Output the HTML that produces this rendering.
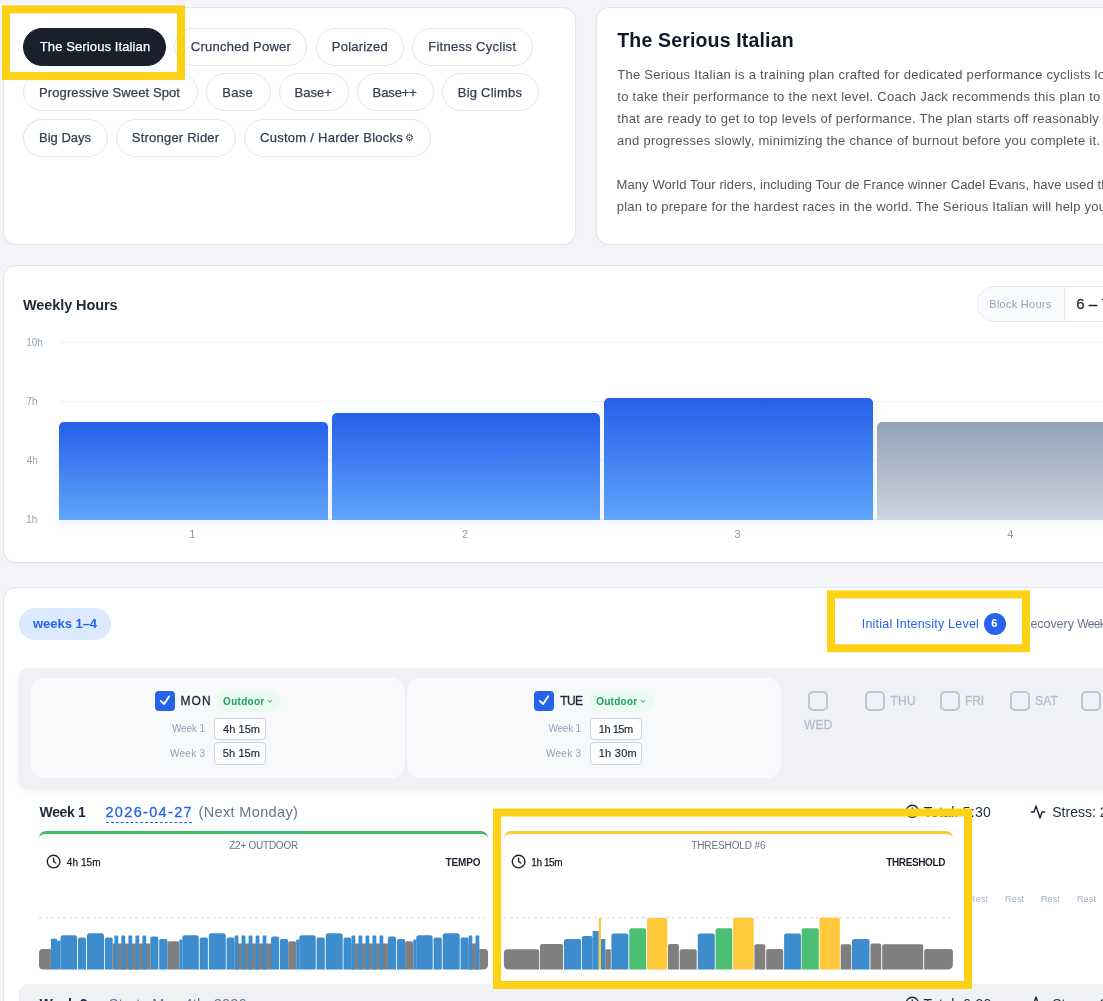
<!DOCTYPE html><html lang='en'><head><meta charset='utf-8'><title>Training Plan</title><style>
*{box-sizing:border-box}
html,body{margin:0;padding:0}
body{width:1103px;height:1001px;overflow:hidden;position:relative;background:#f4f4f9;font-family:'Liberation Sans',sans-serif;}
.t{position:absolute;white-space:pre;display:block}
.abs{position:absolute}
.card{position:absolute;background:#fff;border:1px solid #dfe6ef;border-radius:13px;box-shadow:0 1px 2px rgba(15,23,42,.03)}
  .pill{position:absolute;height:37.4px;border:1px solid #e2e8f0;border-radius:19px;background:#fff}
.pill.on{background:#1a1f2e;border-color:#1a1f2e}
.hl{position:absolute;border:8px solid #fcd116;z-index:50}
.cb{position:absolute;width:20px;height:20px;border-radius:4px}
.cb.on{background:#2563eb}
.cb.off{border:2px solid #bcc7d6;background:transparent;border-radius:5px}
.inp{position:absolute;background:#fff;border:1px solid #cbd5e1;border-radius:4px}
</style></head><body>
<div class='card' style='left:3px;top:7px;width:573px;height:238px'></div>
<div class='pill on' style='left:23px;top:28.3px;width:143.0px'></div>
<span class="t" style="left:39.75px;top:40px;font-size:13px;line-height:13px;font-weight:400;color:#ffffff;letter-spacing:0.114px;-webkit-text-stroke:0.25px currentColor;">The Serious Italian</span>
<div class='pill' style='left:174px;top:28.3px;width:133.4px'></div>
<span class="t" style="left:190.75px;top:40px;font-size:13px;line-height:13px;font-weight:400;color:#334155;letter-spacing:0.250px;-webkit-text-stroke:0.25px currentColor;">Crunched Power</span>
<div class='pill' style='left:316px;top:28.3px;width:87.8px'></div>
<span class="t" style="left:331.80px;top:40px;font-size:13px;line-height:13px;font-weight:400;color:#334155;letter-spacing:0.219px;-webkit-text-stroke:0.25px currentColor;">Polarized</span>
<div class='pill' style='left:412.2px;top:28.3px;width:120.8px'></div>
<span class="t" style="left:428.20px;top:40px;font-size:13px;line-height:13px;font-weight:400;color:#334155;letter-spacing:0.289px;-webkit-text-stroke:0.25px currentColor;">Fitness Cyclist</span>
<div class='pill' style='left:23px;top:73.4px;width:174.5px'></div>
<span class="t" style="left:39.00px;top:86px;font-size:13px;line-height:13px;font-weight:400;color:#334155;letter-spacing:0.107px;-webkit-text-stroke:0.25px currentColor;">Progressive Sweet Spot</span>
<div class='pill' style='left:206px;top:73.4px;width:64.5px'></div>
<span class="t" style="left:222.30px;top:86px;font-size:13px;line-height:13px;font-weight:400;color:#334155;letter-spacing:0.233px;-webkit-text-stroke:0.25px currentColor;">Base</span>
<div class='pill' style='left:279px;top:73.4px;width:69.6px'></div>
<span class="t" style="left:294.60px;top:86px;font-size:13px;line-height:13px;font-weight:400;color:#334155;letter-spacing:0.025px;-webkit-text-stroke:0.25px currentColor;">Base+</span>
<div class='pill' style='left:357px;top:73.4px;width:76.8px'></div>
<span class="t" style="left:372.60px;top:86px;font-size:13px;line-height:13px;font-weight:400;color:#334155;letter-spacing:-0.090px;-webkit-text-stroke:0.25px currentColor;">Base++</span>
<div class='pill' style='left:442px;top:73.4px;width:97.0px'></div>
<span class="t" style="left:457.80px;top:86px;font-size:13px;line-height:13px;font-weight:400;color:#334155;letter-spacing:0.228px;-webkit-text-stroke:0.25px currentColor;">Big Climbs</span>
<div class='pill' style='left:23px;top:119.3px;width:84.5px'></div>
<span class="t" style="left:39.00px;top:131px;font-size:13px;line-height:13px;font-weight:400;color:#334155;letter-spacing:0.000px;-webkit-text-stroke:0.25px currentColor;">Big Days</span>
<div class='pill' style='left:116px;top:119.3px;width:119.5px'></div>
<span class="t" style="left:131.85px;top:131px;font-size:13px;line-height:13px;font-weight:400;color:#334155;letter-spacing:0.208px;-webkit-text-stroke:0.25px currentColor;">Stronger Rider</span>
<div class='pill' style='left:244px;top:119.3px;width:186.8px'></div>
<span class="t" style="left:260.05px;top:131px;font-size:13px;line-height:13px;font-weight:400;color:#334155;letter-spacing:0.262px;-webkit-text-stroke:0.25px currentColor;">Custom / Harder Blocks</span>
<span class="t" style="left:404.60px;top:133px;font-size:10px;line-height:10px;font-weight:400;color:#334155;letter-spacing:0.000px;">⚙</span>
<svg class='abs' style='left:0;top:0;z-index:50' width='1103' height='1001' viewBox='0 0 1103 1001'><rect x='6.0' y='9.4' width='175' height='66.69999999999999' fill='none' stroke='#fcd116' stroke-width='8'/></svg>
<div class='card' style='left:596px;top:7px;width:560px;height:238px'></div>
<span class="t" style="left:617.25px;top:31px;font-size:19.5px;line-height:19.5px;font-weight:700;color:#111827;letter-spacing:0.167px;">The Serious Italian</span>
<span class="t" style="left:617.25px;top:68px;font-size:13px;line-height:13px;font-weight:400;color:#555555;letter-spacing:0.278px;">The Serious Italian is a training plan crafted for dedicated performance cyclists looking</span>
<span class="t" style="left:617.25px;top:90px;font-size:13px;line-height:13px;font-weight:400;color:#555555;letter-spacing:0.301px;">to take their performance to the next level. Coach Jack recommends this plan to riders</span>
<span class="t" style="left:617.25px;top:112px;font-size:13px;line-height:13px;font-weight:400;color:#555555;letter-spacing:0.286px;">that are ready to get to top levels of performance. The plan starts off reasonably</span>
<span class="t" style="left:617.00px;top:134px;font-size:13px;line-height:13px;font-weight:400;color:#555555;letter-spacing:0.285px;">and progresses slowly, minimizing the chance of burnout before you complete it.</span>
<span class="t" style="left:616.50px;top:178px;font-size:13px;line-height:13px;font-weight:400;color:#555555;letter-spacing:0.097px;">Many World Tour riders, including Tour de France winner Cadel Evans, have used this</span>
<span class="t" style="left:616.75px;top:200px;font-size:13px;line-height:13px;font-weight:400;color:#555555;letter-spacing:0.226px;">plan to prepare for the hardest races in the world. The Serious Italian will help you reach</span>
<div class='card' style='left:3px;top:265px;width:1160px;height:298px'></div>
<span class="t" style="left:23.00px;top:298px;font-size:14.5px;line-height:14.5px;font-weight:700;color:#1e293b;letter-spacing:-0.091px;">Weekly Hours</span>
<div class='abs' style='left:977px;top:286px;width:200px;height:36px;border:1px solid #e2e8f0;border-radius:18px;background:#fff;overflow:hidden'><div style='position:absolute;left:0;top:0;width:87px;height:34px;background:#f8fafc;border-right:1px solid #e2e8f0'></div></div>
<span class="t" style="left:989.30px;top:299px;font-size:11px;line-height:11px;font-weight:400;color:#94a3b8;letter-spacing:0.270px;">Block Hours</span>
<span class="t" style="left:1076.25px;top:296px;font-size:15px;line-height:15px;font-weight:400;color:#1e293b;letter-spacing:0.000px;-webkit-text-stroke:0.3px currentColor;">6 – 7</span>
<div class='abs' style='left:59px;top:342px;width:1100px;height:1px;background:#eef1f5'></div>
<div class='abs' style='left:59px;top:401px;width:1100px;height:1px;background:#eef1f5'></div>
<div class='abs' style='left:59px;top:460px;width:1100px;height:1px;background:#eef1f5'></div>
<div class='abs' style='left:59px;top:519px;width:1100px;height:1px;background:#eef1f5'></div>
<span class="t" style="left:26.25px;top:338px;font-size:10px;line-height:10px;font-weight:400;color:#94a3b8;letter-spacing:0.000px;">10h</span>
<span class="t" style="left:26.50px;top:397px;font-size:10px;line-height:10px;font-weight:400;color:#94a3b8;letter-spacing:0.000px;">7h</span>
<span class="t" style="left:26.75px;top:456px;font-size:10px;line-height:10px;font-weight:400;color:#94a3b8;letter-spacing:0.000px;">4h</span>
<span class="t" style="left:26.25px;top:515px;font-size:10px;line-height:10px;font-weight:400;color:#94a3b8;letter-spacing:0.000px;">1h</span>
<div class='abs' style='left:59px;top:421.7px;width:269px;height:98.0px;background:linear-gradient(#2560ea,#5fa5fa);border-radius:5px 5px 0 0;box-shadow:0 4px 10px rgba(37,99,235,.09)'></div>
<div class='abs' style='left:332px;top:413px;width:268px;height:106.7px;background:linear-gradient(#2560ea,#5fa5fa);border-radius:5px 5px 0 0;box-shadow:0 4px 10px rgba(37,99,235,.09)'></div>
<div class='abs' style='left:604px;top:398px;width:269px;height:121.7px;background:linear-gradient(#2560ea,#5fa5fa);border-radius:5px 5px 0 0;box-shadow:0 4px 10px rgba(37,99,235,.09)'></div>
<div class='abs' style='left:877px;top:421.7px;width:269px;height:98.0px;background:linear-gradient(#94a3b8,#cbd5e1);border-radius:5px 5px 0 0;box-shadow:0 4px 10px rgba(100,116,139,.07)'></div>
<span class="t" style="left:189.25px;top:529px;font-size:11px;line-height:11px;font-weight:400;color:#8a99ad;letter-spacing:0.000px;">1</span>
<span class="t" style="left:462.00px;top:529px;font-size:11px;line-height:11px;font-weight:400;color:#8a99ad;letter-spacing:0.000px;">2</span>
<span class="t" style="left:734.50px;top:529px;font-size:11px;line-height:11px;font-weight:400;color:#8a99ad;letter-spacing:0.000px;">3</span>
<span class="t" style="left:1007.25px;top:529px;font-size:11px;line-height:11px;font-weight:400;color:#8a99ad;letter-spacing:0.000px;">4</span>
<div class='card' style='left:3px;top:587px;width:1160px;height:500px'></div>
<div class='abs' style='left:19px;top:608px;width:92px;height:31.5px;border-radius:16px;background:#dbeafe'></div>
<span class="t" style="left:33.00px;top:617px;font-size:13px;line-height:13px;font-weight:700;color:#2563eb;letter-spacing:-0.031px;">weeks 1–4</span>
<span class="t" style="left:861.75px;top:618px;font-size:12.5px;line-height:12.5px;font-weight:400;color:#2563eb;letter-spacing:0.205px;">Initial Intensity Level</span>
<div class='abs' style='left:984px;top:612.5px;width:22px;height:22px;border-radius:11px;background:#2563eb'></div>
<span class="t" style="left:991.30px;top:618px;font-size:11px;line-height:11px;font-weight:700;color:#ffffff;letter-spacing:0.000px;">6</span>
<span class="t" style="left:1021.40px;top:618px;font-size:12.5px;line-height:12.5px;font-weight:400;color:#64748b;letter-spacing:-0.042px;">Recovery </span>
<span class="t" style="left:1077.30px;top:618px;font-size:12px;line-height:12px;font-weight:400;color:#64748b;letter-spacing:-0.650px;">Week</span>
<svg class='abs' style='left:0;top:0;z-index:50' width='1103' height='1001' viewBox='0 0 1103 1001'><rect x='831.0' y='594.4' width='195' height='53.80000000000007' fill='none' stroke='#fcd116' stroke-width='8'/></svg>
<div class='abs' style='left:19px;top:667.5px;width:1140px;height:121px;background:#eff1f5;border-radius:9px;box-shadow:0 3px 6px rgba(15,23,42,.06)'></div>
<div class='abs' style='left:30.5px;top:677.5px;width:374.5px;height:100.5px;background:#f8f9fb;border-radius:14px'></div>
<div class='abs' style='left:406.5px;top:677.5px;width:374.5px;height:100.5px;background:#f8f9fb;border-radius:14px'></div>
<div class='cb on' style='left:155px;top:691px'><svg width='20' height='20' viewBox='0 0 20 20' style='position:absolute;left:0;top:0'><path d='M5.8 9.9 L9.1 13.1 L14.1 5.4' fill='none' stroke='#fff' stroke-width='1.9' stroke-linecap='round' stroke-linejoin='round'/></svg></div>
<span class="t" style="left:180.50px;top:695px;font-size:12px;line-height:12px;font-weight:400;color:#1e293b;letter-spacing:1.100px;-webkit-text-stroke:0.3px currentColor;">MON</span>
<div class='abs' style='left:215.7px;top:691px;width:65.30000000000001px;height:21px;border-radius:10.5px;background:#ebfbf2'></div>
<span class="t" style="left:223.10px;top:697px;font-size:10px;line-height:10px;font-weight:700;color:#21a05e;letter-spacing:0.275px;">Outdoor</span>
<svg class='abs' style='left:267.2px;top:699px' width='6' height='5' viewBox='0 0 6 5'><path d='M1 1.2 L3 3.2 L5 1.2' fill='none' stroke='#21a05e' stroke-width='1'/></svg>
<span class="t" style="left:172.00px;top:724px;font-size:10px;line-height:10px;font-weight:400;color:#94a3b8;letter-spacing:-0.150px;">Week 1</span>
<span class="t" style="left:170.00px;top:749px;font-size:10px;line-height:10px;font-weight:400;color:#94a3b8;letter-spacing:0.250px;">Week 3</span>
<div class='inp' style='left:214px;top:718px;width:51.5px;height:21.5px'></div>
<div class='inp' style='left:214px;top:742px;width:51.5px;height:22.5px'></div>
<span class="t" style="left:223.05px;top:724px;font-size:11px;line-height:11px;font-weight:400;color:#1e293b;letter-spacing:0.050px;-webkit-text-stroke:0.2px currentColor;">4h 15m</span>
<span class="t" style="left:222.80px;top:748px;font-size:11px;line-height:11px;font-weight:400;color:#1e293b;letter-spacing:0.100px;-webkit-text-stroke:0.2px currentColor;">5h 15m</span>
<div class='cb on' style='left:534px;top:691px'><svg width='20' height='20' viewBox='0 0 20 20' style='position:absolute;left:0;top:0'><path d='M5.8 9.9 L9.1 13.1 L14.1 5.4' fill='none' stroke='#fff' stroke-width='1.9' stroke-linecap='round' stroke-linejoin='round'/></svg></div>
<span class="t" style="left:560.25px;top:695px;font-size:12px;line-height:12px;font-weight:400;color:#1e293b;letter-spacing:-0.625px;-webkit-text-stroke:0.3px currentColor;">TUE</span>
<div class='abs' style='left:589px;top:691px;width:65px;height:21px;border-radius:10.5px;background:#ebfbf2'></div>
<span class="t" style="left:596.20px;top:697px;font-size:10px;line-height:10px;font-weight:700;color:#21a05e;letter-spacing:0.258px;">Outdoor</span>
<svg class='abs' style='left:640.4px;top:699px' width='6' height='5' viewBox='0 0 6 5'><path d='M1 1.2 L3 3.2 L5 1.2' fill='none' stroke='#21a05e' stroke-width='1'/></svg>
<span class="t" style="left:548.50px;top:724px;font-size:10px;line-height:10px;font-weight:400;color:#94a3b8;letter-spacing:-0.250px;">Week 1</span>
<span class="t" style="left:546.00px;top:749px;font-size:10px;line-height:10px;font-weight:400;color:#94a3b8;letter-spacing:0.250px;">Week 3</span>
<div class='inp' style='left:590px;top:718px;width:52px;height:21.5px'></div>
<div class='inp' style='left:590px;top:742px;width:52px;height:22.5px'></div>
<span class="t" style="left:598.75px;top:724px;font-size:11px;line-height:11px;font-weight:400;color:#1e293b;letter-spacing:-0.450px;-webkit-text-stroke:0.2px currentColor;">1h 15m</span>
<span class="t" style="left:598.75px;top:748px;font-size:11px;line-height:11px;font-weight:400;color:#1e293b;letter-spacing:0.250px;-webkit-text-stroke:0.2px currentColor;">1h 30m</span>
<div class='cb off' style='left:808px;top:691px'></div>
<span class="t" style="left:804.00px;top:719px;font-size:12px;line-height:12px;font-weight:400;color:#b3bece;letter-spacing:0.250px;-webkit-text-stroke:0.3px currentColor;">WED</span>
<div class='cb off' style='left:865px;top:691px'></div>
<span class="t" style="left:890.45px;top:695px;font-size:12px;line-height:12px;font-weight:400;color:#b3bece;letter-spacing:0.250px;-webkit-text-stroke:0.3px currentColor;">THU</span>
<div class='cb off' style='left:940px;top:691px'></div>
<span class="t" style="left:965.00px;top:695px;font-size:12px;line-height:12px;font-weight:400;color:#b3bece;letter-spacing:-0.125px;-webkit-text-stroke:0.3px currentColor;">FRI</span>
<div class='cb off' style='left:1010px;top:691px'></div>
<span class="t" style="left:1035.10px;top:695px;font-size:12px;line-height:12px;font-weight:400;color:#b3bece;letter-spacing:0.125px;-webkit-text-stroke:0.3px currentColor;">SAT</span>
<div class='cb off' style='left:1081px;top:691px'></div>
<span class="t" style="left:1106.50px;top:695px;font-size:12px;line-height:12px;font-weight:400;color:#b3bece;letter-spacing:0.000px;-webkit-text-stroke:0.3px currentColor;">SUN</span>
<span class="t" style="left:39.60px;top:805px;font-size:14px;line-height:14px;font-weight:700;color:#1e293b;letter-spacing:-0.360px;">Week 1</span>
<span class="t" style="left:105.45px;top:805px;font-size:14.5px;line-height:14.5px;font-weight:400;color:#2563eb;letter-spacing:1.339px;-webkit-text-stroke:0.3px currentColor;">2026-04-27</span>
<div class='abs' style='left:106px;top:821.5px;width:85.5px;height:0;border-top:1px dashed #2563eb'></div>
<span class="t" style="left:198.60px;top:805px;font-size:14.5px;line-height:14.5px;font-weight:400;color:#64748b;letter-spacing:0.346px;">(Next Monday)</span>
<svg class='abs' style='left:904.5px;top:804.4px' width='14.6' height='14.6' viewBox='0 0 24 24'><circle cx='12' cy='12' r='10' fill='none' stroke='#1e293b' stroke-width='2.2'/><path d='M12 6.5V12l3.6 2.2' fill='none' stroke='#1e293b' stroke-width='2.2' stroke-linecap='round' stroke-linejoin='round'/></svg>
<span class="t" style="left:923.75px;top:805px;font-size:14px;line-height:14px;font-weight:400;color:#1e293b;letter-spacing:0.245px;">Total: 5:30</span>
<svg class='abs' style='left:1030px;top:803.5px' width='16' height='16' viewBox='0 0 24 24'><path d='M22 12h-4l-3 9L9 3l-3 9H2' fill='none' stroke='#1e293b' stroke-width='2.1' stroke-linecap='round' stroke-linejoin='round'/></svg>
<span class="t" style="left:1052.25px;top:805px;font-size:14px;line-height:14px;font-weight:400;color:#1e293b;letter-spacing:0.000px;">Stress: 220</span>
<div class='abs' style='left:39px;top:831px;width:449px;height:141px;border-top:3.5px solid #42ba6a;border-radius:7px 7px 0 0;background:#fff'></div>
<span class="t" style="left:229.25px;top:841px;font-size:10px;line-height:10px;font-weight:400;color:#64748b;letter-spacing:-0.250px;">Z2+ OUTDOOR</span>
<svg class='abs' style='left:46.4px;top:854.2px' width='15.2' height='15.2' viewBox='0 0 24 24'><circle cx='12' cy='12' r='10' fill='none' stroke='#222' stroke-width='2.2'/><path d='M12 6.5V12l3.6 2.2' fill='none' stroke='#222' stroke-width='2.2' stroke-linecap='round' stroke-linejoin='round'/></svg>
<span class="t" style="left:66.75px;top:858px;font-size:10px;line-height:10px;font-weight:400;color:#222;letter-spacing:0.100px;-webkit-text-stroke:0.25px currentColor;">4h 15m</span>
<span class="t" style="left:445.50px;top:858px;font-size:10px;line-height:10px;font-weight:700;color:#1f2430;letter-spacing:-0.125px;">TEMPO</span>
<svg class='abs' style='left:39px;top:916px' width='449' height='4' viewBox='0 0 449 4'><line x1='0' y1='1.7' x2='449' y2='1.7' stroke='#e6e6e6' stroke-width='1.6' stroke-dasharray='3 3'/></svg>
<div class='abs' style='left:504px;top:831px;width:449px;height:141px;border-top:3.5px solid #fec835;border-radius:7px 7px 0 0;background:#fff'></div>
<span class="t" style="left:691.25px;top:841px;font-size:10px;line-height:10px;font-weight:400;color:#64748b;letter-spacing:-0.114px;">THRESHOLD #6</span>
<svg class='abs' style='left:511.4px;top:854.2px' width='15.2' height='15.2' viewBox='0 0 24 24'><circle cx='12' cy='12' r='10' fill='none' stroke='#222' stroke-width='2.2'/><path d='M12 6.5V12l3.6 2.2' fill='none' stroke='#222' stroke-width='2.2' stroke-linecap='round' stroke-linejoin='round'/></svg>
<span class="t" style="left:531.25px;top:858px;font-size:10px;line-height:10px;font-weight:400;color:#222;letter-spacing:-0.400px;-webkit-text-stroke:0.25px currentColor;">1h 15m</span>
<span class="t" style="left:886.30px;top:858px;font-size:10px;line-height:10px;font-weight:700;color:#1f2430;letter-spacing:-0.381px;">THRESHOLD</span>
<svg class='abs' style='left:504px;top:916px' width='449' height='4' viewBox='0 0 449 4'><line x1='0' y1='1.7' x2='449' y2='1.7' stroke='#e6e6e6' stroke-width='1.6' stroke-dasharray='3 3'/></svg>
<svg class='abs' style='left:0;top:0' width='1103' height='1001' viewBox='0 0 1103 1001'>
<path d='M39.00 965.10V953.00Q39.00 949.00 43.00 949.00H50.90Q50.90 949.00 50.90 949.00V969.60L50.90 969.60H43.50Q39.00 969.60 39.00 965.10Z' fill='#7f7f7f'/>
<path d='M50.90 969.60V939.50Q50.90 938.70 51.70 938.70H56.20Q57.00 938.70 57.00 939.50V969.60L57.00 969.60H50.90Z' fill='#3d8dce'/>
<path d='M57.00 969.60V941.00Q57.00 940.50 57.50 940.50H60.00Q60.50 940.50 60.50 941.00V969.60L60.50 969.60H57.00Z' fill='#3d8dce'/>
<path d='M60.50 969.60V937.70Q60.50 935.20 63.00 935.20H74.50Q77.00 935.20 77.00 937.70V969.60L77.00 969.60H60.50Z' fill='#3d8dce'/>
<path d='M77.90 969.60V939.40Q77.90 937.40 79.90 937.40H84.10Q86.10 937.40 86.10 939.40V969.60L86.10 969.60H77.90Z' fill='#3d8dce'/>
<path d='M87.00 969.60V935.80Q87.00 933.30 89.50 933.30H101.50Q104.00 933.30 104.00 935.80V969.60L104.00 969.60H87.00Z' fill='#3d8dce'/>
<path d='M104.80 969.60V939.40Q104.80 937.40 106.80 937.40H110.70Q112.70 937.40 112.70 939.40V969.60L112.70 969.60H104.80Z' fill='#3d8dce'/>
<path d='M112.70 969.60V943.50Q112.70 943.50 112.70 943.50H150.30Q150.30 943.50 150.30 943.50V969.60L150.30 969.60H112.70Z' fill='#7f7f7f'/>
<path d='M114.40 969.60V935.90Q114.40 935.50 114.80 935.50H117.80Q118.20 935.50 118.20 935.90V969.60L118.20 969.60H114.40Z' fill='#3d8dce'/>
<path d='M121.40 969.60V935.90Q121.40 935.50 121.80 935.50H124.80Q125.20 935.50 125.20 935.90V969.60L125.20 969.60H121.40Z' fill='#3d8dce'/>
<path d='M128.40 969.60V935.90Q128.40 935.50 128.80 935.50H131.80Q132.20 935.50 132.20 935.90V969.60L132.20 969.60H128.40Z' fill='#3d8dce'/>
<path d='M135.40 969.60V935.90Q135.40 935.50 135.80 935.50H138.80Q139.20 935.50 139.20 935.90V969.60L139.20 969.60H135.40Z' fill='#3d8dce'/>
<path d='M142.40 969.60V935.90Q142.40 935.50 142.80 935.50H145.80Q146.20 935.50 146.20 935.90V969.60L146.20 969.60H142.40Z' fill='#3d8dce'/>
<path d='M150.30 969.60V938.50Q150.30 936.50 152.30 936.50H156.40Q158.40 936.50 158.40 938.50V969.60L158.40 969.60H150.30Z' fill='#3d8dce'/>
<path d='M159.20 969.60V941.00Q159.20 939.00 161.20 939.00H165.50Q167.50 939.00 167.50 941.00V969.60L167.50 969.60H159.20Z' fill='#3d8dce'/>
<path d='M167.50 969.60V943.30Q167.50 941.30 169.50 941.30H177.30Q179.30 941.30 179.30 943.30V969.60L179.30 969.60H167.50Z' fill='#7f7f7f'/>
<path d='M179.30 969.60V940.00Q179.30 939.50 179.80 939.50H181.80Q182.30 939.50 182.30 940.00V969.60L182.30 969.60H179.30Z' fill='#3d8dce'/>
<path d='M182.30 969.60V937.70Q182.30 935.20 184.80 935.20H196.30Q198.80 935.20 198.80 937.70V969.60L198.80 969.60H182.30Z' fill='#3d8dce'/>
<path d='M199.70 969.60V939.40Q199.70 937.40 201.70 937.40H205.90Q207.90 937.40 207.90 939.40V969.60L207.90 969.60H199.70Z' fill='#3d8dce'/>
<path d='M208.80 969.60V935.80Q208.80 933.30 211.30 933.30H223.30Q225.80 933.30 225.80 935.80V969.60L225.80 969.60H208.80Z' fill='#3d8dce'/>
<path d='M226.60 969.60V939.40Q226.60 937.40 228.60 937.40H232.50Q234.50 937.40 234.50 939.40V969.60L234.50 969.60H226.60Z' fill='#3d8dce'/>
<path d='M234.50 969.60V943.50Q234.50 943.50 234.50 943.50H271.00Q271.00 943.50 271.00 943.50V969.60L271.00 969.60H234.50Z' fill='#7f7f7f'/>
<path d='M234.60 969.60V935.90Q234.60 935.50 235.00 935.50H238.00Q238.40 935.50 238.40 935.90V969.60L238.40 969.60H234.60Z' fill='#3d8dce'/>
<path d='M241.60 969.60V935.90Q241.60 935.50 242.00 935.50H245.00Q245.40 935.50 245.40 935.90V969.60L245.40 969.60H241.60Z' fill='#3d8dce'/>
<path d='M248.60 969.60V935.90Q248.60 935.50 249.00 935.50H252.00Q252.40 935.50 252.40 935.90V969.60L252.40 969.60H248.60Z' fill='#3d8dce'/>
<path d='M255.60 969.60V935.90Q255.60 935.50 256.00 935.50H259.00Q259.40 935.50 259.40 935.90V969.60L259.40 969.60H255.60Z' fill='#3d8dce'/>
<path d='M262.60 969.60V935.90Q262.60 935.50 263.00 935.50H266.00Q266.40 935.50 266.40 935.90V969.60L266.40 969.60H262.60Z' fill='#3d8dce'/>
<path d='M271.00 969.60V938.50Q271.00 936.50 273.00 936.50H277.10Q279.10 936.50 279.10 938.50V969.60L279.10 969.60H271.00Z' fill='#3d8dce'/>
<path d='M279.90 969.60V941.00Q279.90 939.00 281.90 939.00H286.20Q288.20 939.00 288.20 941.00V969.60L288.20 969.60H279.90Z' fill='#3d8dce'/>
<path d='M288.20 969.60V943.30Q288.20 941.30 290.20 941.30H294.20Q296.20 941.30 296.20 943.30V969.60L296.20 969.60H288.20Z' fill='#7f7f7f'/>
<path d='M296.20 969.60V940.00Q296.20 939.50 296.70 939.50H298.70Q299.20 939.50 299.20 940.00V969.60L299.20 969.60H296.20Z' fill='#3d8dce'/>
<path d='M299.20 969.60V937.70Q299.20 935.20 301.70 935.20H313.20Q315.70 935.20 315.70 937.70V969.60L315.70 969.60H299.20Z' fill='#3d8dce'/>
<path d='M316.60 969.60V939.40Q316.60 937.40 318.60 937.40H322.80Q324.80 937.40 324.80 939.40V969.60L324.80 969.60H316.60Z' fill='#3d8dce'/>
<path d='M325.70 969.60V935.80Q325.70 933.30 328.20 933.30H340.20Q342.70 933.30 342.70 935.80V969.60L342.70 969.60H325.70Z' fill='#3d8dce'/>
<path d='M343.50 969.60V939.40Q343.50 937.40 345.50 937.40H349.40Q351.40 937.40 351.40 939.40V969.60L351.40 969.60H343.50Z' fill='#3d8dce'/>
<path d='M351.40 969.60V943.50Q351.40 943.50 351.40 943.50H387.90Q387.90 943.50 387.90 943.50V969.60L387.90 969.60H351.40Z' fill='#7f7f7f'/>
<path d='M351.50 969.60V935.90Q351.50 935.50 351.90 935.50H354.90Q355.30 935.50 355.30 935.90V969.60L355.30 969.60H351.50Z' fill='#3d8dce'/>
<path d='M358.50 969.60V935.90Q358.50 935.50 358.90 935.50H361.90Q362.30 935.50 362.30 935.90V969.60L362.30 969.60H358.50Z' fill='#3d8dce'/>
<path d='M365.50 969.60V935.90Q365.50 935.50 365.90 935.50H368.90Q369.30 935.50 369.30 935.90V969.60L369.30 969.60H365.50Z' fill='#3d8dce'/>
<path d='M372.50 969.60V935.90Q372.50 935.50 372.90 935.50H375.90Q376.30 935.50 376.30 935.90V969.60L376.30 969.60H372.50Z' fill='#3d8dce'/>
<path d='M379.50 969.60V935.90Q379.50 935.50 379.90 935.50H382.90Q383.30 935.50 383.30 935.90V969.60L383.30 969.60H379.50Z' fill='#3d8dce'/>
<path d='M387.90 969.60V938.50Q387.90 936.50 389.90 936.50H394.00Q396.00 936.50 396.00 938.50V969.60L396.00 969.60H387.90Z' fill='#3d8dce'/>
<path d='M396.80 969.60V941.00Q396.80 939.00 398.80 939.00H403.10Q405.10 939.00 405.10 941.00V969.60L405.10 969.60H396.80Z' fill='#3d8dce'/>
<path d='M405.10 969.60V943.30Q405.10 941.30 407.10 941.30H411.20Q413.20 941.30 413.20 943.30V969.60L413.20 969.60H405.10Z' fill='#7f7f7f'/>
<path d='M413.20 969.60V940.00Q413.20 939.50 413.70 939.50H415.70Q416.20 939.50 416.20 940.00V969.60L416.20 969.60H413.20Z' fill='#3d8dce'/>
<path d='M416.20 969.60V937.70Q416.20 935.20 418.70 935.20H430.20Q432.70 935.20 432.70 937.70V969.60L432.70 969.60H416.20Z' fill='#3d8dce'/>
<path d='M433.60 969.60V939.40Q433.60 937.40 435.60 937.40H439.80Q441.80 937.40 441.80 939.40V969.60L441.80 969.60H433.60Z' fill='#3d8dce'/>
<path d='M442.70 969.60V935.80Q442.70 933.30 445.20 933.30H457.20Q459.70 933.30 459.70 935.80V969.60L459.70 969.60H442.70Z' fill='#3d8dce'/>
<path d='M460.50 969.60V939.40Q460.50 937.40 462.50 937.40H466.40Q468.40 937.40 468.40 939.40V969.60L468.40 969.60H460.50Z' fill='#3d8dce'/>
<path d='M468.40 969.60V943.50Q468.40 943.50 468.40 943.50H479.30Q479.30 943.50 479.30 943.50V969.60L479.30 969.60H468.40Z' fill='#7f7f7f'/>
<path d='M468.50 969.60V935.90Q468.50 935.50 468.90 935.50H471.90Q472.30 935.50 472.30 935.90V969.60L472.30 969.60H468.50Z' fill='#3d8dce'/>
<path d='M475.50 969.60V935.90Q475.50 935.50 475.90 935.50H478.90Q479.30 935.50 479.30 935.90V969.60L479.30 969.60H475.50Z' fill='#3d8dce'/>
<path d='M479.30 969.60V949.00Q479.30 949.00 479.30 949.00H484.50Q488.00 949.00 488.00 952.50V964.60Q488.00 969.60 483.00 969.60H479.30Z' fill='#7f7f7f'/>
<path d='M503.90 964.60V953.20Q503.90 949.20 507.90 949.20H537.20Q539.20 949.20 539.20 951.20V969.60L539.20 969.60H508.90Q503.90 969.60 503.90 964.60Z' fill='#7f7f7f'/>
<path d='M540.00 969.60V946.00Q540.00 944.00 542.00 944.00H561.10Q563.10 944.00 563.10 946.00V969.60L563.10 969.60H540.00Z' fill='#7f7f7f'/>
<path d='M564.00 969.60V941.00Q564.00 939.00 566.00 939.00H579.00Q581.00 939.00 581.00 941.00V969.60L581.00 969.60H564.00Z' fill='#3d8dce'/>
<path d='M581.80 969.60V938.10Q581.80 936.10 583.80 936.10H590.70Q592.70 936.10 592.70 938.10V969.60L592.70 969.60H581.80Z' fill='#3d8dce'/>
<path d='M592.70 969.60V931.40Q592.70 930.90 593.20 930.90H598.30Q598.80 930.90 598.80 931.40V969.60L598.80 969.60H592.70Z' fill='#3d8dce'/>
<path d='M601.00 969.60V939.50Q601.00 939.00 601.50 939.00H604.80Q605.30 939.00 605.30 939.50V969.60L605.30 969.60H601.00Z' fill='#3d8dce'/>
<path d='M598.80 969.60V918.20Q598.80 917.90 599.10 917.90H600.70Q601.00 917.90 601.00 918.20V969.60L601.00 969.60H598.80Z' fill='#ffc93c'/>
<path d='M605.30 969.60V949.70Q605.30 949.20 605.80 949.20H610.30Q610.80 949.20 610.80 949.70V969.60L610.80 969.60H605.30Z' fill='#7f7f7f'/>
<path d='M611.40 969.60V935.50Q611.40 933.50 613.40 933.50H626.40Q628.40 933.50 628.40 935.50V969.60L628.40 969.60H611.40Z' fill='#3d8dce'/>
<path d='M629.30 969.60V930.30Q629.30 928.30 631.30 928.30H644.20Q646.20 928.30 646.20 930.30V969.60L646.20 969.60H629.30Z' fill='#4bbf73'/>
<path d='M647.10 969.60V919.90Q647.10 917.90 649.10 917.90H665.30Q667.30 917.90 667.30 919.90V969.60L667.30 969.60H647.10Z' fill='#ffc93c'/>
<path d='M668.00 969.60V946.00Q668.00 944.00 670.00 944.00H676.90Q678.90 944.00 678.90 946.00V969.60L678.90 969.60H668.00Z' fill='#7f7f7f'/>
<path d='M679.70 969.60V951.20Q679.70 949.20 681.70 949.20H694.70Q696.70 949.20 696.70 951.20V969.60L696.70 969.60H679.70Z' fill='#7f7f7f'/>
<path d='M697.80 969.60V935.50Q697.80 933.50 699.80 933.50H712.80Q714.80 933.50 714.80 935.50V969.60L714.80 969.60H697.80Z' fill='#3d8dce'/>
<path d='M715.60 969.60V930.20Q715.60 928.20 717.60 928.20H730.30Q732.30 928.20 732.30 930.20V969.60L732.30 969.60H715.60Z' fill='#4bbf73'/>
<path d='M733.20 969.60V919.80Q733.20 917.80 735.20 917.80H751.70Q753.70 917.80 753.70 919.80V969.60L753.70 969.60H733.20Z' fill='#ffc93c'/>
<path d='M754.40 969.60V946.20Q754.40 944.20 756.40 944.20H763.30Q765.30 944.20 765.30 946.20V969.60L765.30 969.60H754.40Z' fill='#7f7f7f'/>
<path d='M766.20 969.60V951.00Q766.20 949.00 768.20 949.00H781.20Q783.20 949.00 783.20 951.00V969.60L783.20 969.60H766.20Z' fill='#7f7f7f'/>
<path d='M784.10 969.60V935.60Q784.10 933.60 786.10 933.60H798.90Q800.90 933.60 800.90 935.60V969.60L800.90 969.60H784.10Z' fill='#3d8dce'/>
<path d='M801.60 969.60V930.20Q801.60 928.20 803.60 928.20H816.80Q818.80 928.20 818.80 930.20V969.60L818.80 969.60H801.60Z' fill='#4bbf73'/>
<path d='M819.50 969.60V919.80Q819.50 917.80 821.50 917.80H837.80Q839.80 917.80 839.80 919.80V969.60L839.80 969.60H819.50Z' fill='#ffc93c'/>
<path d='M840.70 969.60V946.20Q840.70 944.20 842.70 944.20H849.30Q851.30 944.20 851.30 946.20V969.60L851.30 969.60H840.70Z' fill='#7f7f7f'/>
<path d='M852.00 969.60V941.00Q852.00 939.00 854.00 939.00H867.50Q869.50 939.00 869.50 941.00V969.60L869.50 969.60H852.00Z' fill='#3d8dce'/>
<path d='M870.40 969.60V945.50Q870.40 943.50 872.40 943.50H879.20Q881.20 943.50 881.20 945.50V969.60L881.20 969.60H870.40Z' fill='#7f7f7f'/>
<path d='M882.20 969.60V946.20Q882.20 944.20 884.20 944.20H921.20Q923.20 944.20 923.20 946.20V969.60L923.20 969.60H882.20Z' fill='#7f7f7f'/>
<path d='M924.20 969.60V951.00Q924.20 949.00 926.20 949.00H950.40Q952.90 949.00 952.90 951.50V964.10Q952.90 969.60 947.40 969.60H924.20Z' fill='#7f7f7f'/>
</svg>
<span class="t" style="left:969.05px;top:895px;font-size:9px;line-height:9px;font-weight:400;color:#a3b1c6;letter-spacing:0.183px;">Rest</span>
<span class="t" style="left:1005.05px;top:895px;font-size:9px;line-height:9px;font-weight:400;color:#a3b1c6;letter-spacing:0.183px;">Rest</span>
<span class="t" style="left:1040.95px;top:895px;font-size:9px;line-height:9px;font-weight:400;color:#a3b1c6;letter-spacing:0.183px;">Rest</span>
<span class="t" style="left:1076.95px;top:895px;font-size:9px;line-height:9px;font-weight:400;color:#a3b1c6;letter-spacing:0.183px;">Rest</span>
<svg class='abs' style='left:0;top:0;z-index:50' width='1103' height='1001' viewBox='0 0 1103 1001'><rect x='497.0' y='812.5' width='471' height='172.5' fill='none' stroke='#fcd116' stroke-width='8'/></svg>
<div class='abs' style='left:19px;top:984px;width:1140px;height:60px;background:#eff1f5;border-radius:9px'></div>
<span class="t" style="left:39.60px;top:997px;font-size:14px;line-height:14px;font-weight:700;color:#1e293b;letter-spacing:-0.020px;">Week 2</span>
<span class="t" style="left:108.85px;top:997px;font-size:14.5px;line-height:14.5px;font-weight:400;color:#64748b;letter-spacing:0.205px;">Starts May 4th, 2026</span>
<svg class='abs' style='left:904.5px;top:996.2px' width='14.6' height='14.6' viewBox='0 0 24 24'><circle cx='12' cy='12' r='10' fill='none' stroke='#1e293b' stroke-width='2.2'/><path d='M12 6.5V12l3.6 2.2' fill='none' stroke='#1e293b' stroke-width='2.2' stroke-linecap='round' stroke-linejoin='round'/></svg>
<span class="t" style="left:923.55px;top:997px;font-size:14px;line-height:14px;font-weight:400;color:#1e293b;letter-spacing:0.315px;">Total: 6:30</span>
<svg class='abs' style='left:1030px;top:995.3px' width='16' height='16' viewBox='0 0 24 24'><path d='M22 12h-4l-3 9L9 3l-3 9H2' fill='none' stroke='#1e293b' stroke-width='2.1' stroke-linecap='round' stroke-linejoin='round'/></svg>
<span class="t" style="left:1052.25px;top:997px;font-size:14px;line-height:14px;font-weight:400;color:#1e293b;letter-spacing:0.000px;">Stress: 260</span>
</body></html>
